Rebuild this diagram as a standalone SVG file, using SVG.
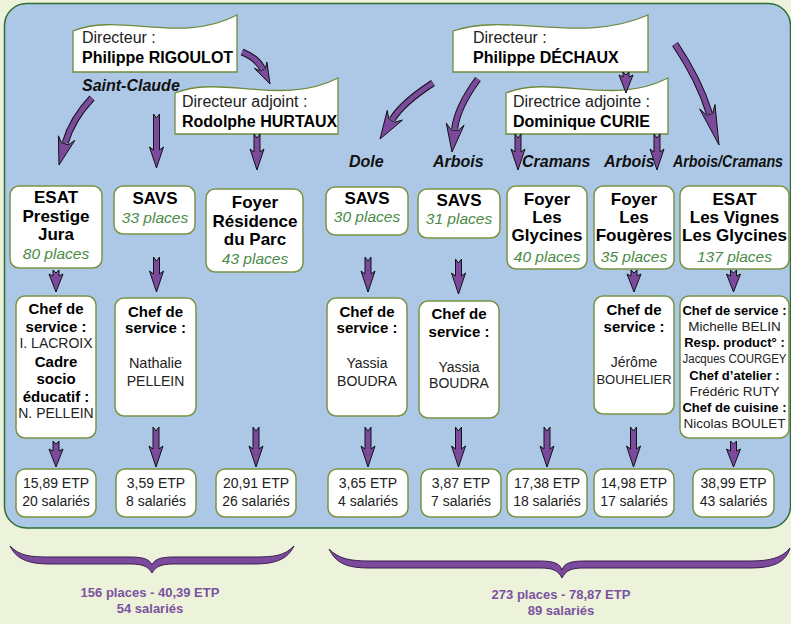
<svg xmlns="http://www.w3.org/2000/svg" width="791" height="624" viewBox="0 0 791 624">
<style>
.box{fill:#fff;stroke:#7a9445;stroke-width:1.5}
.ban{fill:#fff;stroke:#6f8a3c;stroke-width:1.3}
text{font-family:"Liberation Sans",Arial,sans-serif}
.r{fill:#222}
.b{font-weight:bold;fill:#000}
.m{text-anchor:middle}
.loc{font-weight:bold;font-style:italic;font-size:16px;fill:#111}
.ttl{font-weight:bold;font-size:17px;text-anchor:middle;fill:#000}
.pl{font-style:italic;font-size:15.5px;fill:#4a8a46;text-anchor:middle}
.ah{fill:#7b4a9c;stroke:#111;stroke-width:1;stroke-linejoin:round}
.so{fill:none;stroke:#111;stroke-width:7}
.si{fill:none;stroke:#7b4a9c;stroke-width:5}
.brace{fill:#7b4a9c;stroke:#3b1f50;stroke-width:1}
.sum{font-weight:bold;font-size:13px;fill:#7b52a0;text-anchor:middle}
</style>
<rect x="0" y="0" width="791" height="624" fill="#edf2db"/>
<rect x="4.5" y="3.5" width="786" height="524.5" rx="22" fill="#adc8e6" stroke="#2f6e35" stroke-width="1.5"/>

<g id="dir-rigoulot">
<path class="ban" d="M73,31 C120,12 180,45 237,15 L237,72 L73,72 Z"/>
<text class="r" x="82" y="43" font-size="16">Directeur :</text>
<text class="b" x="82" y="63" font-size="16">Philippe RIGOULOT</text>
</g>
<g id="adj-hurtaux">
<path class="ban" d="M175,93 C222,74 282,107 338,78 L338,134 L175,134 Z"/>
<text class="r" x="182" y="107" font-size="16">Directeur adjoint :</text>
<text class="b" x="182" y="127" font-size="16">Rodolphe HURTAUX</text>
</g>
<g id="dir-dechaux">
<path class="ban" d="M453,31 C510,12 580,45 648,15 L648,72 L453,72 Z"/>
<text class="r" x="473" y="43" font-size="16">Directeur :</text>
<text class="b" x="473" y="63" font-size="16">Philippe DÉCHAUX</text>
</g>
<g id="adj-curie">
<path class="ban" d="M506,93 C553,74 612,107 668,78 L668,134 L506,134 Z"/>
<text class="r" x="513" y="107" font-size="16">Directrice adjointe :</text>
<text class="b" x="513" y="127" font-size="16">Dominique CURIE</text>
</g>

<g id="locations">
<text class="loc" x="82" y="91">Saint-Claude</text>
<text class="loc" x="349" y="167">Dole</text>
<text class="loc" x="433" y="167">Arbois</text>
<text class="loc" x="522" y="167" font-size="15">Cramans</text>
<text class="loc" x="604" y="167" font-size="15.5">Arbois</text>
<text class="loc" x="673" y="167" font-size="14" textLength="110" lengthAdjust="spacingAndGlyphs">Arbois/Cramans</text>
</g>

<g id="esat-prestige">
<rect class="box" x="10" y="186" width="92" height="82" rx="9"/>
<text class="ttl" x="56" y="203">ESAT</text>
<text class="ttl" x="56" y="222">Prestige</text>
<text class="ttl" x="56" y="240">Jura</text>
<text class="pl" x="56" y="259">80 places</text>
</g>
<g id="savs-33">
<rect class="box" x="114" y="186" width="81" height="48" rx="9"/>
<text class="ttl" x="155" y="204">SAVS</text>
<text class="pl" x="155" y="223">33 places</text>
</g>
<g id="foyer-residence">
<rect class="box" x="206" y="189" width="97" height="83" rx="9"/>
<text class="ttl" x="255" y="208">Foyer</text>
<text class="ttl" x="255" y="227" font-size="17.5">Résidence</text>
<text class="ttl" x="255" y="245">du Parc</text>
<text class="pl" x="255" y="264">43 places</text>
</g>
<g id="savs-30">
<rect class="box" x="326" y="187" width="82" height="48" rx="9"/>
<text class="ttl" x="367" y="204">SAVS</text>
<text class="pl" x="367" y="222" font-size="15">30 places</text>
</g>
<g id="savs-31">
<rect class="box" x="418" y="189" width="82" height="49" rx="9"/>
<text class="ttl" x="459" y="206">SAVS</text>
<text class="pl" x="459" y="224" font-size="15">31 places</text>
</g>
<g id="foyer-glycines">
<rect class="box" x="507" y="186" width="80" height="83" rx="9"/>
<text class="ttl" x="547" y="205">Foyer</text>
<text class="ttl" x="547" y="223">Les</text>
<text class="ttl" x="547" y="241">Glycines</text>
<text class="pl" x="547" y="262">40 places</text>
</g>
<g id="foyer-fougeres">
<rect class="box" x="594" y="186" width="80" height="83" rx="9"/>
<text class="ttl" x="634" y="205">Foyer</text>
<text class="ttl" x="634" y="223">Les</text>
<text class="ttl" x="634" y="241">Fougères</text>
<text class="pl" x="634" y="262">35 places</text>
</g>
<g id="esat-vignes">
<rect class="box" x="680" y="186" width="109" height="83" rx="9"/>
<text class="ttl" x="734.5" y="205">ESAT</text>
<text class="ttl" x="734.5" y="223">Les Vignes</text>
<text class="ttl" x="734.5" y="241">Les Glycines</text>
<text class="pl" x="734.5" y="262">137 places</text>
</g>

<g id="chef-1">
<rect class="box" x="16" y="296" width="80" height="142" rx="9"/>
<text class="b m" x="56" y="314" font-size="15">Chef de</text>
<text class="b m" x="56" y="332" font-size="15">service :</text>
<text class="r m" x="56" y="348" font-size="14">I. LACROIX</text>
<text class="b m" x="56" y="367" font-size="15">Cadre</text>
<text class="b m" x="56" y="384" font-size="15">socio</text>
<text class="b m" x="56" y="402" font-size="15">éducatif :</text>
<text class="r m" x="56" y="418" font-size="14">N. PELLEIN</text>
</g>
<g id="chef-2">
<rect class="box" x="115" y="298" width="81" height="118" rx="9"/>
<text class="b m" x="155.5" y="317" font-size="15">Chef de</text>
<text class="b m" x="155.5" y="333" font-size="15">service :</text>
<text class="r m" x="155.5" y="368" font-size="14.5">Nathalie</text>
<text class="r m" x="155.5" y="386" font-size="14">PELLEIN</text>
</g>
<g id="chef-3">
<rect class="box" x="327" y="298" width="80" height="118" rx="9"/>
<text class="b m" x="367" y="317" font-size="15">Chef de</text>
<text class="b m" x="367" y="333" font-size="15">service :</text>
<text class="r m" x="367" y="368" font-size="14">Yassia</text>
<text class="r m" x="367" y="386" font-size="14">BOUDRA</text>
</g>
<g id="chef-4">
<rect class="box" x="419" y="301" width="80" height="117" rx="9"/>
<text class="b m" x="459" y="319" font-size="15">Chef de</text>
<text class="b m" x="459" y="337" font-size="15">service :</text>
<text class="r m" x="459" y="372" font-size="14">Yassia</text>
<text class="r m" x="459" y="388" font-size="14">BOUDRA</text>
</g>
<g id="chef-5">
<rect class="box" x="594" y="296" width="80" height="118" rx="9"/>
<text class="b m" x="634" y="315" font-size="15">Chef de</text>
<text class="b m" x="634" y="332" font-size="15">service :</text>
<text class="r m" x="634" y="367" font-size="14">Jérôme</text>
<text class="r m" x="634" y="384" font-size="13">BOUHELIER</text>
</g>
<g id="chef-6">
<rect class="box" x="680" y="296" width="109" height="142" rx="9"/>
<text class="b m" x="734.5" y="315" font-size="13">Chef de service :</text>
<text class="r m" x="734.5" y="331" font-size="13.5">Michelle BELIN</text>
<text class="b m" x="734.5" y="347" font-size="13">Resp. product° :</text>
<text class="r m" x="734.5" y="363" font-size="12" textLength="104" lengthAdjust="spacingAndGlyphs">Jacques COURGEY</text>
<text class="b m" x="734.5" y="380" font-size="13">Chef d’atelier :</text>
<text class="r m" x="734.5" y="396" font-size="13.5">Frédéric RUTY</text>
<text class="b m" x="734.5" y="412" font-size="13">Chef de cuisine :</text>
<text class="r m" x="734.5" y="428" font-size="13.5">Nicolas BOULET</text>
</g>

<g id="etp-1"><rect class="box" x="16" y="469" width="80" height="48" rx="9"/>
<text class="r m" x="56" y="488" font-size="14">15,89 ETP</text><text class="r m" x="56" y="506" font-size="14">20 salariés</text></g>
<g id="etp-2"><rect class="box" x="116" y="469" width="80" height="48" rx="9"/>
<text class="r m" x="156" y="488" font-size="14">3,59 ETP</text><text class="r m" x="156" y="506" font-size="14">8 salariés</text></g>
<g id="etp-3"><rect class="box" x="216" y="469" width="80" height="48" rx="9"/>
<text class="r m" x="256" y="488" font-size="14">20,91 ETP</text><text class="r m" x="256" y="506" font-size="14">26 salariés</text></g>
<g id="etp-4"><rect class="box" x="328" y="469" width="80" height="48" rx="9"/>
<text class="r m" x="368" y="488" font-size="14">3,65 ETP</text><text class="r m" x="368" y="506" font-size="14">4 salariés</text></g>
<g id="etp-5"><rect class="box" x="421" y="469" width="80" height="48" rx="9"/>
<text class="r m" x="461" y="488" font-size="14">3,87 ETP</text><text class="r m" x="461" y="506" font-size="14">7 salariés</text></g>
<g id="etp-6"><rect class="box" x="507" y="469" width="80" height="48" rx="9"/>
<text class="r m" x="547" y="488" font-size="14">17,38 ETP</text><text class="r m" x="547" y="506" font-size="14">18 salariés</text></g>
<g id="etp-7"><rect class="box" x="594" y="469" width="80" height="48" rx="9"/>
<text class="r m" x="634" y="488" font-size="14">14,98 ETP</text><text class="r m" x="634" y="506" font-size="14">17 salariés</text></g>
<g id="etp-8"><rect class="box" x="693" y="469" width="81" height="48" rx="9"/>
<text class="r m" x="733.5" y="488" font-size="14">38,99 ETP</text><text class="r m" x="733.5" y="506" font-size="14">43 salariés</text></g>

<g id="connectors">
<path class="so" d="M92,98 Q72.1,118.9 65.3,142.9"/><path class="si" d="M92,98 Q72.1,118.9 65.3,142.9"/>
<path class="ah" d="M59,165 L74.8,140.4 L68.4,144.8 L61.6,142.8 L58.4,135.8 Z"/>
<path class="so" d="M242,52 Q257,58 262.4,68.8"/><path class="si" d="M242,52 Q257,58 262.4,68.8"/>
<path class="ah" d="M270,84 L266.9,62.1 L265.5,68.4 L260.1,71 L254.3,68.3 Z"/>
<path class="so" d="M433,83 Q402.8,102.5 392.2,119.5"/><path class="si" d="M433,83 Q402.8,102.5 392.2,119.5"/>
<path class="ah" d="M380,139 L387.2,110.5 L388.7,118.5 L394.7,122.2 L402.5,120.1 Z"/>
<path class="so" d="M478,79 Q457.1,107.4 454.6,129.2"/><path class="si" d="M478,79 Q457.1,107.4 454.6,129.2"/>
<path class="ah" d="M452,152 L446.3,123.2 L451,129.8 L458,130.6 L464.1,125.2 Z"/>
<path class="so" d="M675,44 Q699.2,80 709.4,113.5"/><path class="si" d="M675,44 Q699.2,80 709.4,113.5"/>
<path class="ah" d="M719,145 L699.7,109.1 L706.8,115.3 L712.6,113.5 L715,104.5 Z"/>

<path class="ah" d="M153.5,114 L156.5,118 L159.5,114 L159.5,150 L163.5,147 L156.5,168 L149.5,147 L153.5,150 Z"/>
<path class="ah" d="M254,134 L257,138 L260,134 L260,152 L264,149 L257,170 L250,149 L254,152 Z"/>
<path class="ah" d="M623,72 L626,75 L629,72 L629,77 L633,75 L626,93 L619,75 L623,77 Z"/>
<path class="ah" d="M515,134 L518,138 L521,134 L521,152 L525,149 L518,170 L511,149 L515,152 Z"/>
<path class="ah" d="M654,134 L657,138 L660,134 L660,152 L664,149 L657,170 L650,149 L654,152 Z"/>

<path class="ah" d="M53,270 L56,273 L59,270 L59,276 L63,274 L56,292 L49,274 L53,276 Z"/>
<path class="ah" d="M153.5,257 L156.5,261 L159.5,257 L159.5,274 L163.5,271 L156.5,292 L149.5,271 L153.5,274 Z"/>
<path class="ah" d="M365,257 L368,261 L371,257 L371,274 L375,271 L368,292 L361,271 L365,274 Z"/>
<path class="ah" d="M455.5,259 L458.5,263 L461.5,259 L461.5,276 L465.5,273 L458.5,294 L451.5,273 L455.5,276 Z"/>
<path class="ah" d="M631,270 L634,273 L637,270 L637,276 L641,274 L634,292 L627,274 L631,276 Z"/>
<path class="ah" d="M730.5,270 L733.5,273 L736.5,270 L736.5,276 L740.5,274 L733.5,292 L726.5,274 L730.5,276 Z"/>

<path class="ah" d="M53,441 L56,444 L59,441 L59,451 L63,449 L56,467 L49,449 L53,451 Z"/>
<path class="ah" d="M153,427 L156,431 L159,427 L159,449 L163,446 L156,467 L149,446 L153,449 Z"/>
<path class="ah" d="M253,427 L256,431 L259,427 L259,449 L263,446 L256,467 L249,446 L253,449 Z"/>
<path class="ah" d="M365,427 L368,431 L371,427 L371,449 L375,446 L368,467 L361,446 L365,449 Z"/>
<path class="ah" d="M455.5,427 L458.5,431 L461.5,427 L461.5,449 L465.5,446 L458.5,467 L451.5,446 L455.5,449 Z"/>
<path class="ah" d="M544,427 L547,431 L550,427 L550,449 L554,446 L547,467 L540,446 L544,449 Z"/>
<path class="ah" d="M630.5,427 L633.5,431 L636.5,427 L636.5,449 L640.5,446 L633.5,467 L626.5,446 L630.5,449 Z"/>
<path class="ah" d="M730.5,441 L733.5,444 L736.5,441 L736.5,451 L740.5,449 L733.5,467 L726.5,449 L730.5,451 Z"/>
</g>

<g id="brace-left">
<path class="brace" d="M10,546 C20,556 30,557 50,557 L130,557 C145,557 150,560 152,565 C154,560 159,557 174,557 L254,557 C274,557 284,556 294,546 C288,558 278,564 254,564 L174,564 C162,564 156,566 152,573 C148,566 142,564 130,564 L50,564 C26,564 16,558 10,546 Z"/>
<text class="sum" x="150" y="597">156 places - 40,39 ETP</text>
<text class="sum" x="150" y="613">54 salariés</text>
</g>
<g id="brace-right">
<path class="brace" d="M329,549 C339,559 350,561 370,561 L540,561 C555,561 560,564 562,570 C564,564 569,561 584,561 L750,561 C770,561 782,558 790,548 C786,562 774,568 750,568 L584,568 C572,568 566,570 562,578 C558,570 552,568 540,568 L370,568 C346,568 336,563 329,549 Z"/>
<text class="sum" x="561" y="599">273 places - 78,87 ETP</text>
<text class="sum" x="561" y="615">89 salariés</text>
</g>
</svg>
